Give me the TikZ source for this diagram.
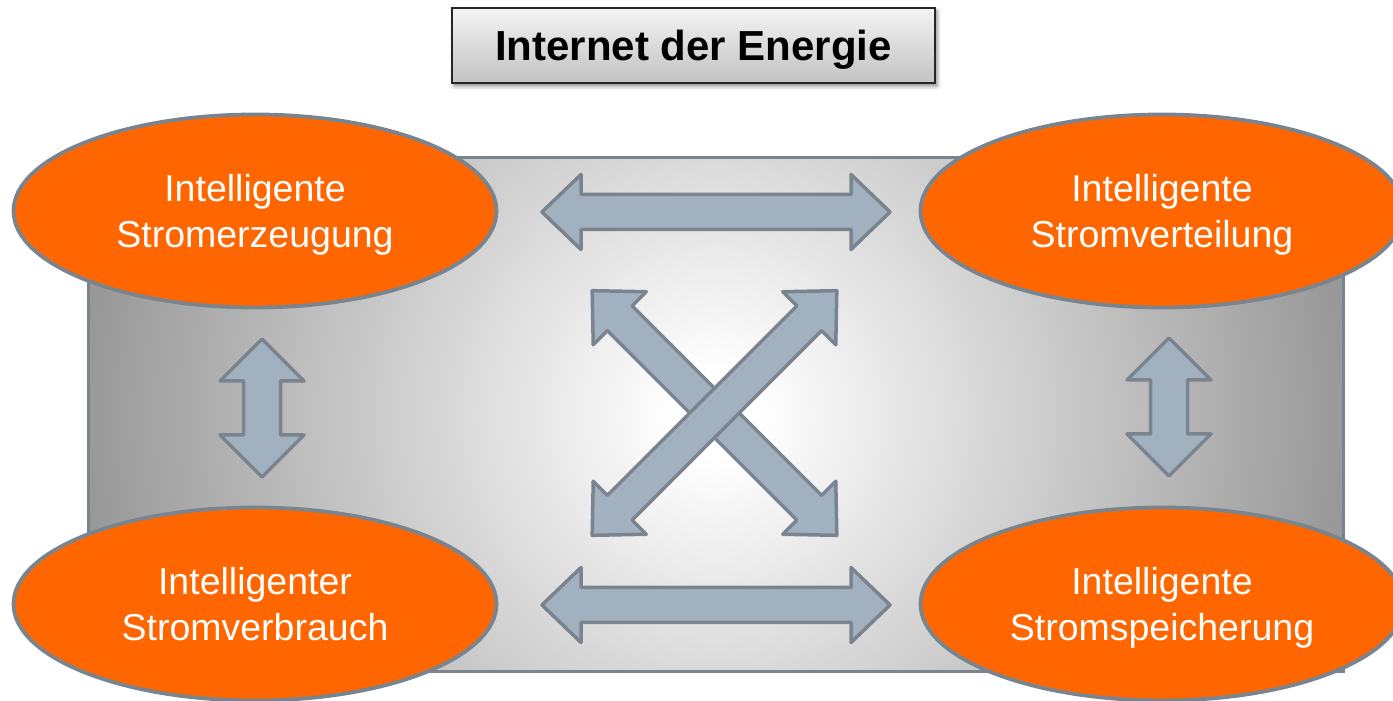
\documentclass[tikz,border=0pt]{standalone}
\usepackage{fontspec}
\setmainfont{Liberation Sans}
\usetikzlibrary{shapes.geometric,shadows.blur}
\definecolor{orng}{HTML}{FF6600}
\definecolor{slate}{HTML}{7A848E}
\definecolor{arrfill}{HTML}{A2B1C0}
\definecolor{bgedge}{HTML}{999999}
\definecolor{bgcorner}{HTML}{929292}
\definecolor{ttop}{HTML}{F4F4F4}
\definecolor{tbot}{HTML}{C2C2C2}
\pgfdeclareradialshading{bgshade}{\pgfpoint{0bp}{0bp}}{color(0bp)=(white);color(1.5bp)=(white);color(22.4bp)=(bgedge);color(25bp)=(bgcorner);color(50bp)=(bgcorner)}
\tikzset{
  blockarrow/.style={fill=arrfill, draw=slate, line width=3.5pt, line join=round},
  pics/dblarrow/.style n args={4}{code={
    \path[blockarrow] (-#1,0) -- (-#1+#2,#3) -- (-#1+#2,#4) -- (#1-#2,#4) -- (#1-#2,#3)
      -- (#1,0) -- (#1-#2,-#3) -- (#1-#2,-#4) -- (-#1+#2,-#4) -- (-#1+#2,-#3) -- cycle;
  }},
  blob/.style={ellipse, fill=orng, draw=slate, line width=3.8pt,
    minimum width=483pt, minimum height=193pt, inner sep=0pt, text depth=-3pt,
    text=white, align=center, font=\fontsize{37.5}{46}\selectfont},
  titlebox/.style={rectangle, minimum width=483pt, minimum height=75pt, text depth=0pt,
    draw=black!85, line width=1.5pt, top color=ttop, bottom color=tbot,
    blur shadow={shadow xshift=2pt, shadow yshift=-3pt, shadow blur radius=4pt, shadow opacity=50},
    font=\fontsize{42}{50}\selectfont\bfseries},
  panelborder/.style={draw=slate, line width=3pt}
}
\begin{document}
\begin{tikzpicture}[x=1pt,y=1pt]
\useasboundingbox (0,0) rectangle (1393,701);
% background panel
\begin{scope}
  \clip (88,29) rectangle (1343,543);
  \shade[shading=bgshade] (715.5,286) circle (700);
\end{scope}
\draw[panelborder] (88,29) rectangle (1343,543);
% arrows
\pic (topArrow) at (716,489) {dblarrow={174}{39}{37.5}{17.5}};
\pic (botArrow) at (716,96) {dblarrow={174}{39}{37.5}{17.5}};
\pic[rotate=90] (leftArrow) at (262,293) {dblarrow={69}{42}{42}{18.5}};
\pic[rotate=90] (rightArrow) at (1169,294) {dblarrow={69}{42}{42}{18.5}};
\pic[rotate=-45] (diagA) at (714.5,288) {dblarrow={173}{39}{37.5}{17.5}};
\pic[rotate=45] (diagB) at (714.5,288) {dblarrow={173}{39}{37.5}{17.5}};
% ellipses
\node[blob] (gen) at (255,490) {Intelligente\\Stromerzeugung};
\node[blob] (dist) at (1162,490) {Intelligente\\Stromverteilung};
\node[blob] (cons) at (255,97) {Intelligenter\\Stromverbrauch};
\node[blob] (stor) at (1162,97) {Intelligente\\Stromspeicherung};
% title
\node[titlebox] (title) at (693.5,655.5) {Internet der Energie};
\end{tikzpicture}
\end{document}
